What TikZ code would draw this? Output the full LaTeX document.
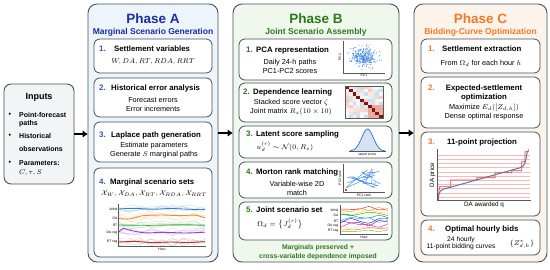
\documentclass[tikz,border=0pt]{standalone}
\usepackage{amsmath,amssymb}
\usepackage{fontspec}
\setmainfont{Liberation Sans}
\usetikzlibrary{arrows.meta,positioning,calc}
\definecolor{edgegray}{HTML}{46505B}
\definecolor{afill}{HTML}{EEF4FC}
\definecolor{bfill}{HTML}{F0F7EC}
\definecolor{cfill}{HTML}{FCF4EA}
\definecolor{infill}{HTML}{F3F4F6}
\definecolor{ablue}{HTML}{1B2E9E}
\definecolor{anum}{HTML}{3456C8}
\definecolor{bgreen}{HTML}{2C7A1E}
\definecolor{corange}{HTML}{F07A28}
\definecolor{cwind}{HTML}{3A7FC8}
\definecolor{cda}{HTML}{F28C2E}
\definecolor{crt}{HTML}{3DAA3D}
\definecolor{cdar}{HTML}{8E46D6}
\definecolor{crtr}{HTML}{B0382E}
\definecolor{dotblue}{HTML}{3C86E0}
\definecolor{hmdark}{HTML}{7E1416}
\definecolor{hmred}{HTML}{D9654F}
\definecolor{hmblue}{HTML}{5A9BD0}
\definecolor{bellblue}{HTML}{2E6FD0}
\definecolor{curveblue}{HTML}{4A7DB0}
\definecolor{stepred}{HTML}{E8423F}
\definecolor{gridpink}{HTML}{F6B8B8}

\begin{document}
\begin{tikzpicture}[
    x=1pt,y=-1pt,
    phase/.style   = {draw=edgegray, line width=0.9pt, rounded corners=9pt, inner sep=0pt},
    cardbox/.style = {draw=edgegray, fill=white, line width=0.8pt, rounded corners=6pt, inner sep=0pt},
    ptitle/.style  = {font=\fontsize{13.5}{15}\selectfont\bfseries},
    psub/.style    = {font=\fontsize{8.5}{10}\selectfont\bfseries},
    num/.style     = {font=\fontsize{8}{9}\selectfont\bfseries, anchor=west, inner sep=0pt},
    head/.style    = {font=\fontsize{7.8}{9}\selectfont\bfseries, anchor=west, inner sep=0pt},
    body/.style    = {font=\fontsize{7.3}{9}\selectfont, align=center, inner sep=0pt},
    foot/.style    = {font=\fontsize{6.8}{9}\selectfont\bfseries, text=bgreen, align=center, inner sep=0pt},
    inl/.style     = {font=\fontsize{7}{8}\selectfont\bfseries, anchor=west, inner sep=0pt},
    lbl/.style     = {font=\fontsize{3.4}{4}\selectfont, inner sep=0.5pt},
    lblb/.style    = {font=\fontsize{6.3}{7}\selectfont, inner sep=0.5pt},
    axline/.style  = {draw=gray!70!black, line width=0.4pt},
    flow/.style    = {-{Triangle[length=5pt,width=6.5pt]}, line width=1.6pt},
  ]
  \useasboundingbox (0,0) rectangle (550,269);

  % columns
  \node[phase, fill=infill, minimum width=70, minimum height=100, rounded corners=7pt] (inp) at (39,134) {};
  \node[phase, fill=afill, minimum width=130, minimum height=258] (pa) at (153,133) {};
  \node[phase, fill=bfill, minimum width=166, minimum height=258] (pb) at (316,133) {};
  \node[phase, fill=cfill, minimum width=133, minimum height=258] (pc) at (480.5,133) {};

  \draw[flow] (inp.east) -- (inp.east -| pa.west);
  \draw[flow] (pa.east) -- (pb.west);
  \draw[flow] (pb.east) -- (pc.west);

  % inputs
  \node[font=\fontsize{9}{10}\selectfont\bfseries] (int) at (39,97) {Inputs};
  \foreach \yy [count=\k] in {115,136,163}
    \node[inl] (bul\k) at (8.5,\yy) {\textbullet};
  \node[inl] (in1) at (19,115) {Point-forecast};
  \node[inl] (in2) at (19,124) {paths};
  \node[inl] (in3) at (19,136) {Historical};
  \node[inl] (in4) at (19,149) {observations};
  \node[inl] (in5) at (19,163) {Parameters:};
  \node[inl] (in6) at (19,173) {$C,\tau,S$};

  % phase A
  \node[ptitle, text=ablue] (pat) at (153,19) {Phase A};
  \node[psub, text=ablue] (pas) at (153,32) {Marginal Scenario Generation};

  \node[cardbox, minimum width=118, minimum height=34] (a1) at (153,56) {};
  \node[cardbox, minimum width=118, minimum height=39] (a2) at (153,97.5) {};
  \node[cardbox, minimum width=118, minimum height=40] (a3) at (153,142) {};
  \node[cardbox, minimum width=118, minimum height=89] (a4) at (153,212.5) {};

  \node[num, text=anum] (a1n) at (99,49) {1.};
  \node[head] (a1h) at (114,49) {Settlement variables};
  \node[body] (a1b) at (153,62) {$W, DA, RT, RDA, RRT$};
  \node[num, text=anum] (a2n) at (99,88) {2.};
  \node[head] (a2h) at (111,88) {Historical error analysis};
  \node[body] (a2b) at (153,104.5) {Forecast errors\\Error increments};
  \node[num, text=anum] (a3n) at (99,135) {3.};
  \node[head] (a3h) at (111,135) {Laplace path generation};
  \node[body] (a3b) at (154,150) {Estimate parameters\\Generate $S$ marginal paths};
  \node[num, text=anum] (a4n) at (99,182) {4.};
  \node[head] (a4h) at (110,182) {Marginal scenario sets};
  \node[body] (a4b) at (154,194) {$\mathcal{X}_W, \mathcal{X}_{DA}, \mathcal{X}_{RT}, \mathcal{X}_{RDA}, \mathcal{X}_{RRT}$};

  % scenario fan
  \pgfmathsetseed{11}
  \foreach \yy/\cc in {209/cwind,217/cda,225/crt,232/cdar,242/crtr}
    \foreach \k in {1,...,5}
      \draw[\cc!30, line width=0.35pt] plot[smooth, domain=119:205, samples=9] (\x,{\yy+8*rnd-4});
  \draw[cwind, line width=0.9pt] plot[smooth] coordinates {(119,209) (135,208.3) (152,209.3) (170,208.5) (188,209.2) (205,209.6)};
  \draw[cda, line width=0.9pt] plot[smooth] coordinates {(119,218.5) (130,219) (142,215.8) (160,215) (180,215.6) (195,215.2) (205,217.8)};
  \draw[crt, line width=0.9pt] plot[smooth] coordinates {(119,225) (150,225.3) (180,224.8) (205,225.2)};
  \draw[cdar, line width=0.9pt] plot[smooth] coordinates {(119,232) (123,228.5) (131,230.5) (145,232.8) (165,232.3) (185,233) (205,232.2)};
  \draw[crtr, line width=0.9pt] plot[smooth] coordinates {(119,242) (135,241.4) (152,242.6) (170,242) (190,242.5) (205,241.6)};
  \draw[axline] (118,204) -- (118,246.5) -- (206,246.5);
  \foreach \lab/\yy [count=\k] in {Wind/209,DA/218,RT/225,DA reg/233,RT reg/242}
    \node[lbl, anchor=east] (al\k) at (118,\yy) {\lab};
  \node[lbl] (ahr) at (162,249.5) {Hour};

  % phase B
  \node[ptitle, text=bgreen] (pbt) at (316,19) {Phase B};
  \node[psub, text=bgreen] (pbs) at (316,32) {Joint Scenario Assembly};

  \node[cardbox, minimum width=153, minimum height=41] (b1) at (315.5,59.5) {};
  \node[cardbox, minimum width=153, minimum height=39] (b2) at (315.5,102.5) {};
  \node[cardbox, minimum width=153, minimum height=32] (b3) at (315.5,142) {};
  \node[cardbox, minimum width=153, minimum height=36] (b4) at (315.5,180) {};
  \node[cardbox, minimum width=153, minimum height=38] (b5) at (315.5,221) {};

  \node[num, text=bgreen] (b1n) at (246,50) {1.};
  \node[head] (b1h) at (256,50) {PCA representation};
  \node[body] (b1b) at (290,66.5) {Daily 24-h paths\\PC1-PC2 scores};
  \node[num, text=bgreen] (b2n) at (243,92) {2.};
  \node[head] (b2h) at (253,92) {Dependence learning};
  \node[body] (b2b) at (291,107.5) {Stacked score vector $\zeta$\\Joint matrix $R_z(10\times10)$};
  \node[num, text=bgreen] (b3n) at (246,134) {3.};
  \node[head] (b3h) at (256,134) {Latent score sampling};
  \node[body] (b3b) at (285,147) {$u_d^{(r)}\sim\mathcal{N}(0,R_z)$};
  \node[num, text=bgreen] (b4n) at (246,172) {4.};
  \node[head] (b4h) at (256,172) {Morton rank matching};
  \node[body] (b4b) at (297,188) {Variable-wise 2D\\match};
  \node[num, text=bgreen] (b5n) at (246,210) {5.};
  \node[head] (b5h) at (256,210) {Joint scenario set};
  \node[body] (b5b) at (280,224) {$\Omega_d=\big\{J_d^{(r)}\big\}$};
  \node[foot] (bft) at (318,252.5) {Marginals preserved +\\cross-variable dependence imposed};

  % PCA scatter
  \pgfmathsetseed{5}
  \foreach \i in {1,...,320}
    \fill[dotblue] ({364+13*(rnd+rnd+rnd-1.5)},{57+10*(rnd+rnd+rnd-1.5)}) circle (0.5pt);
  \draw[axline] (343,41) -- (343,73) -- (385,73);
  \node[lbl, rotate=90] (pc2) at (340,57) {PC2};
  \node[lbl] (pc1) at (364,75.5) {PC1};

  % correlation matrix
  \foreach \i in {0,...,9}
    \foreach \j in {0,...,9}{
      \pgfmathsetmacro\hv{min(1,0.6*sin(47*\i*\j+23*(\i+\j))+0.9*and(\i>5,\j>5))}
      \pgfmathtruncatemacro\hr{abs(\hv)*55}
      \ifnum\i=\j \def\hc{hmdark}\else
        \ifdim\hv pt>0pt \edef\hc{hmred!\hr!white}\else \edef\hc{hmblue!\hr!white}\fi
      \fi
      \fill[\hc] (345+3.8*\j,86+3.2*\i) rectangle ++(3.8,3.2);
    }
  \draw[axline] (345,86) rectangle (383,118);

  % latent density
  \fill[bellblue!20] plot[domain=-3:3, samples=40] ({367.5+5.8*\x},{151-22*exp(-0.5*(\x)^2)}) -- cycle;
  \draw[bellblue, line width=0.7pt] plot[domain=-3:3, samples=40] ({367.5+5.8*\x},{151-22*exp(-0.5*(\x)^2)});
  \draw[axline] (349,151) -- (386,151);
  \node[lbl] (lat) at (367.5,154) {latent score};

  % rank matching
  \pgfmathsetseed{21}
  \foreach \i in {1,...,16}
    \draw[dotblue, line width=0.45pt] ({346+37*rnd},{166+24*rnd}) -- ({346+37*rnd},{166+24*rnd});
  \draw[axline] (343,164) -- (343,192) -- (385,192);
  \fill[stepred] (344.5,188.5) rectangle ++(2.5,2.5);
  \node[lbl] (pr1) at (364,195) {PC1 rank};
  \node[lbl, rotate=90] (pr2) at (340,178) {PC2 rank};

  % joint paths
  \pgfmathsetseed{8}
  \foreach \cc [count=\k] in {red,orange,yellow!80!orange,green!70!black,teal,cyan,blue,violet,magenta,pink,brown,lime!70!black}
    \draw[\cc, line width=0.4pt] plot[smooth, domain=341:388, samples=6] (\x,{206+2.2*\k+6*rnd-3});
  \draw[axline] (340,205) -- (340,234.5) -- (388,234.5);
  \foreach \lab/\yy [count=\k] in {Wind/210,DA/215,RT/221,DA reg/226,RT reg/231}
    \node[lbl, anchor=east] (bl\k) at (339,\yy) {\lab};
  \node[lbl] (bhr) at (364,237) {Hour};

  % phase C
  \node[ptitle, text=corange] (pct) at (480.5,19) {Phase C};
  \node[psub, text=corange] (pcs) at (480.5,32) {Bidding-Curve Optimization};

  \node[cardbox, minimum width=119, minimum height=34] (c1) at (480.5,56) {};
  \node[cardbox, minimum width=119, minimum height=51] (c2) at (480.5,102.5) {};
  \node[cardbox, minimum width=119, minimum height=84] (c3) at (480.5,174) {};
  \node[cardbox, minimum width=119, minimum height=35] (c4) at (480.5,237.5) {};

  \node[num, text=corange] (c1n) at (428,49) {1.};
  \node[head] (c1h) at (442,49) {Settlement extraction};
  \node[body] (c1b) at (481,63) {From $\Omega_d$ for each hour $h$};
  \node[num, text=corange] (c2n) at (428,88) {2.};
  \node[head, anchor=center, align=center] (c2h) at (484,92.5) {Expected-settlement\\optimization};
  \node[body] (c2b) at (484,112.5) {Maximize $E_d([Z_{d,h}])$\\Dense optimal response};
  \node[num, text=corange] (c3n) at (428,142) {3.};
  \node[head] (c3h) at (447,142) {11-point projection};
  \node[num, text=corange] (c4n) at (428,229) {4.};
  \node[head] (c4h) at (445,229) {Optimal hourly bids};
  \node[body, font=\fontsize{6.7}{7.5}\selectfont] (c4b) at (461,243.5) {24 hourly\\11-point bidding curves};
  \node[body] (c4z) at (522,244) {$\{Z^*_{d,h}\}$};

  % bid curve
  \foreach \k in {0,...,10}
    \draw[gridpink, line width=0.3pt] (437,155+4.2*\k) -- (530,155+4.2*\k);
  \draw[curveblue, line width=1pt] (438,198.5) .. controls (439,191) and (441,189.5) .. (446,188.5)
       -- (521,167.5) .. controls (525,166.5) and (526,160) .. (527.3,151);
  \draw[stepred, line width=0.8pt] (438.5,200) -- (439.3,186.7) -- (450.7,186.7) -- (450.7,180)
       -- (476.7,180) -- (476.7,177.7) -- (495,177.7) -- (495,172.7) -- (511.7,172.7)
       -- (511.7,170.7) -- (521.7,170.7) -- (521.7,161.7) -- (525,161.7) -- (525,151.7)
       -- (528.3,151.7) -- (528.3,149);
  \draw[axline] (437,149) -- (437,200) -- (531,200);
  \node[lblb, rotate=90] (dap) at (432.5,175) {DA price};
  \node[lblb] (daq) at (484,205) {DA awarded q};

\end{tikzpicture}
\end{document}
